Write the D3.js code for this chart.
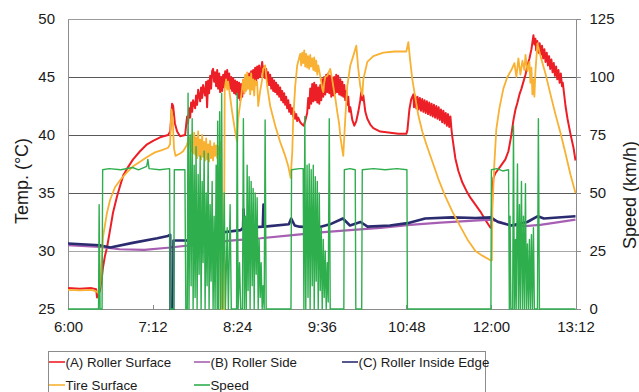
<!DOCTYPE html>
<html>
<head>
<meta charset="utf-8">
<script src="https://cdn.jsdelivr.net/npm/d3@7"></script>
<style>
  html, body { margin: 0; padding: 0; background: #fff; }
  svg { display: block; font-family: "Liberation Sans", Arial, Helvetica, sans-serif; }
</style>
</head>
<body>
<svg id="chart" width="639" height="392"></svg>
<script>
// Axis ticks
const timeTicks = ["6:00", "7:12", "8:24", "9:36", "10:48", "12:00", "13:12"];
const tempTicks = [25, 30, 35, 40, 45, 50];
const speedTicks = [0, 25, 50, 75, 100, 125];

// Series: [minutes after 6:00, value]
const rollerSurface = [
  [0,26.8],[10,26.75],[20,26.8],[24,26.7],[24.7,26.0],[25.5,26.3],[27,26.5],[28.5,27.4],[29.8,28.6],[31.5,29.6],
  [33.2,30.3],[35.8,31.8],[38.3,33.3],[41.7,34.7],[44.3,35.6],[47,36.5],[50.3,37.1],[55.4,37.9],[61.3,38.6],[67.3,39.2],
  [72.4,39.5],[78.4,39.8],[85.2,40.0],[87,40.3],[88.6,42.7],[89.5,42.5],[91,41.0],[92.9,40.3],[95.4,39.9],[99.7,40.0],
  [100.5,40.8],[101.4,41.6],[102.2,41.0],[103.1,42.3],[104,41.5],[104.8,42.8],[105.7,42.0],[106.5,43.0],[108.2,42.3],[109,43.4],
  [109.9,42.6],[110.8,43.9],[112.5,42.9],[113.3,44.1],[114.2,43.2],[115,44.3],[116.7,43.4],[117.6,44.6],[118.4,42.4],[119.3,44.7],
  [120.1,43.6],[121,45.1],[121.8,44.0],[122.7,45.5],[123.5,45.7],[124.4,44.6],[125.2,45.4],
  [126.1,44.2],[127,45.6],[127.8,44.0],[128.7,45.3],[129.5,43.7],[130.4,45.0],[131.2,43.8],[132.1,45.2],[132.9,44.1],[133.8,45.5],
  [134.6,44.3],[135.5,45.6],[136.3,44.4],[137.2,45.3],[138,44.0],[138.9,45.0],[139.7,43.8],[140.6,44.9],[141.4,43.6],[142.3,44.7],
  [143.1,43.5],[144,44.6],[144.8,43.2],[145.7,44.5],[146.6,43.0],[147.4,44.4],[148.3,43.3],[149.1,44.7],[150,43.6],[150.8,44.8],
  [151.7,43.9],[152.5,45.0],[153.4,44.1],[154.2,45.3],[155.1,44.3],[155.9,45.5],[156.8,44.5],[157.6,45.6],[158.5,44.6],[159.3,45.8],
  [160.2,44.7],[161,45.9],[161.9,44.9],[162.7,46.0],[163.6,45.0],[165.3,46.3],[166.1,45.1],[167,45.9],[167.8,44.9],[168.7,45.7],
  [169.6,44.6],[170.4,45.4],[171.2,44.3],[172.1,45.2],[173,44.0],[173.8,44.9],[174.7,43.8],[175.5,44.7],[176.4,43.7],[177.2,44.5],
  [178.1,43.5],[178.9,44.3],[179.8,43.3],[180.6,44.1],[181.5,43.0],[182.3,43.8],[183.2,42.8],[184,43.6],[184.9,42.6],[185.7,43.3],
  [186.6,42.3],[187.5,43.0],[188.3,42.0],[189.2,42.6],[190,41.8],[190.9,42.3],[191.7,41.6],[192.6,42.0],[193.4,41.4],[194.3,41.8],
  [195.1,41.2],[196,41.5],[197.7,41.1],[199.4,40.9],[200.6,40.8],[201.9,41.2],[203.6,41.9],
  [204.5,43.2],[205.3,42.3],[206.2,44.0],[207,42.7],[207.9,44.4],[208.8,42.9],[209.6,44.5],[210.5,43.0],[211.3,44.3],[212.2,42.8],
  [213,44.1],[213.9,42.7],[214.7,44.3],[215.6,43.0],[216.4,44.8],[217.3,43.3],[218.1,45.0],[219,43.5],[219.8,45.2],[220.7,43.7],
  [221.5,45.3],[222.4,43.6],[223.2,45.1],[224.1,43.3],[224.9,44.9],[225.8,43.4],[226.6,45.0],[227.5,43.6],[228.3,45.2],[229.2,43.7],
  [230,45.1],[230.9,43.5],[231.8,44.8],[232.6,43.4],[233.5,44.6],[234.3,43.3],[235.2,44.3],[236,43.0],[236.9,43.8],[237.7,42.6],
  [238.6,43.3],[239.4,42.0],[240.3,42.4],[242,41.3],[243.7,40.8],[245.4,41.2],[247.1,42.0],[248.8,43.0],[249.6,43.7],[250.5,43.0],
  [251.4,43.4],[253.1,42.0],[254.8,41.4],[257.3,40.9],[259.9,40.6],[265.8,40.3],[274.4,40.2],[281.2,40.1],[288,40.1],[288.9,40.4],
  [290.6,42.2],[292.2,43.1],[294,43.5],
  [294.5,42.4],[295.5,43.4],[296.5,42.3],[297.5,43.3],[298.5,42.2],[299.5,43.2],[300.5,42.1],[301.5,43.1],[302.5,42.0],[303.5,43.0],
  [304.5,41.9],[305.5,42.9],[306.5,41.8],[307.5,42.8],[308.5,41.7],[309.5,42.7],[310.5,41.6],[311.5,42.6],[312.5,41.5],[313.5,42.5],
  [314.5,41.4],[315.5,42.4],[316.5,41.3],[317.5,42.2],[318.5,41.1],[319.5,42.1],[320.5,41.0],[321.5,41.9],[322.5,40.8],[323.5,41.8],
  [324.5,40.7],[325.5,41.6],[326.5,40.4],
  [327.2,39.8],[329.7,38.0],[332.3,36.9],[335.7,35.9],[339.1,35.2],[342.5,34.6],[346.8,34.0],[351,33.4],[355.2,32.7],[359.6,32.0],
  [360.4,32.0],[361.2,35.0],[362.1,36.3],[363.8,36.7],[368.1,37.3],[372.3,37.9],[374.9,38.6],[377.4,40.0],[379.2,41.3],[380.9,42.2],
  [382.6,42.8],[384.3,43.5],[386,44.0],[387.7,44.6],[389.4,45.2],[391.1,46.0],[392.8,46.6],[394.5,47.4],[396.2,48.6],[397,47.8],
  [397.9,48.3],
  [398.5,47.3],[399.5,48.1],[400.5,47.1],[401.5,47.9],[402.5,46.9],[403.5,47.7],[404.5,46.6],[405.5,47.4],[406.5,46.3],[407.5,47.1],
  [408.5,46.0],[409.5,46.8],[410.5,45.7],[411.5,46.5],[412.5,45.4],[413.5,46.2],[414.5,45.1],[415.5,45.9],[416.5,44.8],[417.5,45.6],
  [418.5,44.5],[419.5,45.3],[420.5,44.2],[421.2,44.5],
  [423.5,42.5],[425.2,41.4],[427.7,40.1],[430.3,38.9],[432,37.8]
];

const rollerSide = [
  [0,30.5],[27,30.35],[44,30.15],[65,30.1],[87,30.3],[113,30.6],[138,30.9],[164,31.1],[189,31.35],[215,31.6],
  [240,31.8],[266,32.0],[291,32.25],[317,32.45],[342,32.6],[360,32.7],[368,32.5],[377,32.2],[389,32.15],[402,32.25],
  [415,32.45],[432,32.7]
];

const rollerInsideEdge = [
  [0,30.65],[27,30.5],[36,30.3],[55,30.7],[76,31.1],[85,31.3],[87,31.4],[87.3,24],[89.5,24],[89.8,30.9],
  [101,30.9],[118,31.3],[127,31.55],[147,31.8],[149,32.0],[149.4,33.6],[150.2,32.0],[165.8,32.1],[166.4,34.0],[167.2,32.1],
  [188,32.3],[190,32.8],[193,32.2],[197,32.1],[212,32.0],[223,32.3],[234,32.8],[240,32.2],[249,32.5],[255,32.1],
  [274,32.2],[289,32.4],[304,32.8],[327,32.9],[347,32.85],[360,32.9],[366,32.5],[377,32.2],[391,32.5],[400,33.0],
  [405,32.8],[432,33.0]
];

const tireSurface = [
  [0,26.65],[10,26.6],[20,26.65],[24.5,26.5],[25.5,26.4],[27.3,27.0],[29,29.5],[29.8,31.2],[33.2,33.3],[35.8,34.4],
  [40,35.5],[44.3,36.1],[50.3,36.8],[55.4,37.3],[61.3,37.7],[67.3,38.1],[74,38.5],[80,38.7],[85.2,38.9],[86.9,39.2],
  [88,42.2],[89,41.5],[90.3,38.8],[91.5,38.2],[95.4,38.4],[98,38.6],[101,39.1],[103.1,39.8],
  [104.8,38.6],[105.7,40.0],[106.5,38.4],[107.4,40.2],[108.2,38.3],[109,39.8],[109.9,38.0],[110.8,40.3],[111.6,38.2],[112.5,39.6],
  [113.3,37.9],[114.2,40.0],[115,38.1],[115.9,39.4],[116.7,37.8],[117.6,39.7],[118.4,37.9],[119.3,39.2],[120.1,37.7],[121,39.5],
  [121.8,38.0],[122.7,39.0],[123.5,37.8],[124.4,39.3],[125.2,38.2],[126.1,39.1],[127,38.0],[127.8,39.0],[128.7,38.3],[129.5,39.4],
  [130.4,39.0],[131.2,22],[132.5,22],[133.4,44.0],[134.6,44.8],[135.5,43.9],[136.3,44.6],[139.7,42.0],[142.3,40.3],[144,39.4],
  [144.8,41.4],[147.4,43.3],[149.1,44.8],[150,43.6],[150.8,45.2],[151.7,43.8],[152.5,45.4],[153.4,44.0],[154.2,45.0],[155.1,43.5],
  [155.9,45.3],[156.8,43.9],[157.6,44.8],[158.5,43.4],[159.3,44.7],[160.2,44.3],[161,44.6],[161.9,42.5],[163.6,43.8],[165.3,44.8],
  [166.1,45.7],[167.8,46.0],[169.6,44.2],[172.1,42.5],[176.4,40.8],[180.6,39.4],[184.9,38.2],[187.5,37.3],[189.5,36.3],[190.9,38.5],
  [191.7,41.4],[193.4,44.2],[195.1,46.0],[197.7,47.0],
  [198.5,46.0],[199.4,47.1],[200.2,46.2],[201.1,47.3],[201.9,45.9],[202.8,47.0],[203.6,45.8],[204.5,46.8],[205.3,45.7],[206.2,46.9],
  [207,45.9],[207.9,46.6],[208.8,45.6],[209.6,46.7],[210.5,45.5],[211.3,46.4],[212.2,45.2],[213,46.0],[214.7,45.1],[216.4,44.0],
  [217.3,43.7],[218.1,44.5],[219,45.0],[220.7,45.1],[222.4,45.5],[223.2,45.7],[224.9,44.8],[225.8,44.2],[227.5,43.2],[229.2,42.0],
  [230.9,40.9],[231.8,39.9],[233.5,38.7],[234.3,38.2],[236,41.4],[237.7,44.2],[240.3,46.0],[242.8,46.8],[245.4,47.7],[247.1,45.7],
  [248.8,44.2],[250.5,43.4],[251.4,44.8],[254.8,46.3],[259.9,46.8],[268.4,47.1],[278,47.2],[288,47.2],[289.7,48.0],[291.4,46.3],
  [293.1,44.8],[295.7,43.2],[298.2,41.7],[301.6,40.3],[305,39.2],[310.2,37.7],[315.3,36.2],[321.2,34.7],[327.2,33.4],[334,32.1],
  [340,31.0],[346.8,30.0],[352.7,29.6],[359.6,29.2],[360.8,29.2],[361.2,33.5],[362.9,37.5],[364.6,40.5],[367.2,42.3],[370.6,44.0],
  [374,45.0],[377.4,45.6],[380,46.2],[381.7,45.0],[383.4,46.6],[385.1,45.2],[386.8,46.4],[388.5,45.6],[389.4,46.9],[391.1,45.5],
  [392.8,46.3],[393.6,44.5],[394.5,45.8],[395.3,43.5],[396.2,44.8],[397,43.3],[397.9,45.5],[399.6,47.9],[402.2,46.8],[406.4,45.3],
  [410.7,43.5],[414.9,41.8],[419.2,40.2],[423.5,38.4],[427.7,36.6],[432,35.0]
];

const speed = [
  [0,0],[26,0],[26.5,45],[27.3,0],[29,0],[29.5,60],[35,60.5],[45,60],[55,61],[60,60],
  [67,61.5],[68,64.5],[69,60.5],[78,60],[86.5,60.5],[87,0],[90,0],[90.5,60],[99.5,60],[100.3,0],
  [101.5,0],[102.2,93],[103,0],[104,75],[104.8,10],[105.7,82],[106.5,0],[107.4,62],[108.2,5],[109,70],
  [109.9,0],[110.8,58],[111.6,15],[112.5,66],[113.3,0],[114.2,55],[115,20],[115.9,68],[116.7,0],[117.6,50],
  [118.4,10],[119.3,67],[120.1,0],[121,45],[121.8,12],[122.7,55],[123.5,0],[124.4,40],[125.2,0],[126.1,62],
  [127,0],[127.4,81],[128.2,0],[129.1,85],[129.9,0],[130.8,93],[131.6,0],[133,50],[134,0],[135.5,35],
  [136.5,0],[138,45],[139,0],[143.5,0],[144,93],[144.8,0],[146,20],[147,0],[148.5,0],[149.3,82],
  [150.2,0],[151,40],[151.8,0],[152.5,62],[153.3,8],[154.2,57],[155,0],[155.9,55],[156.8,10],[157.6,52],
  [158.5,0],[159.3,50],[160.2,15],[161,48],[161.9,0],[162.7,30],[163.6,5],[164.4,20],[165.3,0],[166.1,10],
  [167,0],[167.8,81.5],[168.7,0],[189.8,0],[190.3,60],[197,60.5],[200.2,60.5],[200.8,0],[201.6,83],[202.4,0],
  [203.5,62],[204.3,5],[205.3,62.5],[206.1,0],[207,60],[207.9,10],[208.8,62],[209.6,0],[210.5,57],[211.3,12],
  [212.2,55],[213,0],[213.9,50],[214.7,8],[215.6,35],[216.4,0],[217.3,30],[218.1,5],[219,25],[219.8,0],
  [220.7,20],[221.5,3],[222.4,82],[223.2,0],[234.8,0],[235.2,60],[240,60.5],[244.5,60],[245,0],[250,0],
  [250.5,60],[260,60.5],[270,60],[280,60.5],[288.5,60],[288.9,0],[360,0],[360.4,60],[365,60.5],[370,59.5],
  [375,60],[375.7,0],[376.3,40],[377,0],[378.5,0],[379.2,79],[380,0],[380.9,30],[381.5,0],[382.6,62.5],
  [383.4,0],[384.3,45],[385,0],[386,55],[386.8,0],[387.7,40],[388.5,0],[389.4,54],[390.2,0],[391.1,28],
  [391.9,0],[392.8,30],[393.6,0],[394.5,32],[395.3,0],[396.2,35],[397,0],[399.6,0],[400.4,82],[401.3,0],
  [432,0]
];

const seriesNames = ["(A) Roller Surface", "(B) Roller Side", "(C) Roller Inside Edge", "Tire Surface", "Speed"];

// ---- styling ----
const colors = {
  rollerSurface: "#ec1f26",
  rollerSide: "#a65fb2",
  rollerInsideEdge: "#2b2c70",
  tireSurface: "#f8b132",
  speed: "#2fae4e"
};
const widths = { rollerSurface: 2, rollerSide: 2.2, rollerInsideEdge: 2.6, tireSurface: 1.8, speed: 1.4 };

const W = 639, H = 392;
const plot = { left: 68, right: 575.5, top: 19, bottom: 309 };

const toMinutes = s => { const [h, m] = s.split(":").map(Number); return h * 60 + m - 360; };
const tickMinutes = timeTicks.map(toMinutes);

const x = d3.scaleLinear().domain([tickMinutes[0], tickMinutes[tickMinutes.length - 1]]).range([plot.left, plot.right]);
const yT = d3.scaleLinear().domain([25, 50]).range([plot.bottom, plot.top]);
const yS = d3.scaleLinear().domain([0, 125]).range([plot.bottom, plot.top]);

const svg = d3.select("#chart");
const textColor = "#1a1a1a";

// gridlines
svg.append("g")
  .selectAll("line")
  .data(tempTicks.filter(d => d > 25 && d < 50))
  .join("line")
  .attr("x1", plot.left).attr("x2", plot.right)
  .attr("y1", d => yT(d)).attr("y2", d => yT(d))
  .attr("stroke", d => d === 30 ? "#a8a8a8" : "#595959")
  .attr("stroke-width", 1)
  .attr("shape-rendering", "crispEdges");

// top border
svg.append("line")
  .attr("x1", plot.left).attr("x2", plot.right)
  .attr("y1", plot.top).attr("y2", plot.top)
  .attr("stroke", "#9a9a9a").attr("shape-rendering", "crispEdges");

function styleAxis(g) {
  g.attr("font-family", null).attr("font-size", null);
  g.select(".domain").attr("stroke", "#8c8c8c").attr("shape-rendering", "crispEdges");
  g.selectAll(".tick line").attr("stroke", "#8c8c8c").attr("shape-rendering", "crispEdges");
  g.selectAll(".tick text").attr("fill", textColor).style("font-size", "15px");
}

svg.append("g")
  .attr("transform", `translate(${plot.left},0)`)
  .call(d3.axisLeft(yT).tickValues(tempTicks).tickSize(0).tickPadding(13))
  .call(styleAxis);

svg.append("g")
  .attr("transform", `translate(${plot.right},0)`)
  .call(d3.axisRight(yS).tickValues(speedTicks).tickSize(5).tickSizeOuter(0).tickPadding(9))
  .call(styleAxis);

svg.append("g")
  .attr("transform", `translate(0,${plot.bottom})`)
  .call(d3.axisBottom(x).tickValues(tickMinutes).tickFormat((d, i) => timeTicks[i])
        .tickSize(-4).tickSizeOuter(0).tickPadding(12))
  .call(styleAxis);

// axis titles
svg.append("text")
  .attr("transform", "translate(22,181) rotate(-90)")
  .attr("text-anchor", "middle").attr("dominant-baseline", "central")
  .attr("fill", textColor).style("font-size", "18px")
  .text("Temp. (°C)");

svg.append("text")
  .attr("transform", "translate(630,195) rotate(-90)")
  .attr("text-anchor", "middle").attr("dominant-baseline", "central")
  .attr("fill", textColor).style("font-size", "18px")
  .text("Speed (km/h)");

// series
svg.append("clipPath").attr("id", "plot-clip")
  .append("rect")
  .attr("x", plot.left).attr("y", plot.top - 2)
  .attr("width", plot.right - plot.left + 1).attr("height", plot.bottom - plot.top + 3);

const lines = svg.append("g").attr("clip-path", "url(#plot-clip)");
const tempLine = d3.line().x(d => x(d[0])).y(d => yT(d[1]));
const speedLine = d3.line().x(d => x(d[0])).y(d => yS(d[1]));

const drawn = [
  { key: "rollerSurface", data: rollerSurface, gen: tempLine },
  { key: "rollerSide", data: rollerSide, gen: tempLine },
  { key: "rollerInsideEdge", data: rollerInsideEdge, gen: tempLine },
  { key: "tireSurface", data: tireSurface, gen: tempLine },
  { key: "speed", data: speed, gen: speedLine }
];

drawn.forEach(s => {
  lines.append("path")
    .datum(s.data)
    .attr("fill", "none")
    .attr("stroke", colors[s.key])
    .attr("stroke-width", widths[s.key])
    .attr("stroke-linejoin", "round")
    .attr("d", s.gen);
});

// legend
const legend = svg.append("g");
legend.append("rect")
  .attr("x", 48).attr("y", 351).attr("width", 437).attr("height", 60)
  .attr("fill", "#fff").attr("stroke", "#8c8c8c").attr("shape-rendering", "crispEdges");

const legendPos = [[49, 362], [194, 362], [342, 362], [49, 385], [194, 385]];
seriesNames.forEach((name, i) => {
  const [lx, ly] = legendPos[i];
  const key = drawn[i].key;
  legend.append("line")
    .attr("x1", lx).attr("x2", lx + 16).attr("y1", ly).attr("y2", ly)
    .attr("stroke", colors[key]).attr("stroke-width", 1.6);
  legend.append("text")
    .attr("x", lx + 16.5).attr("y", ly + 5)
    .attr("fill", textColor).style("font-size", "13.3px")
    .text(name);
});
</script>
</body>
</html>
